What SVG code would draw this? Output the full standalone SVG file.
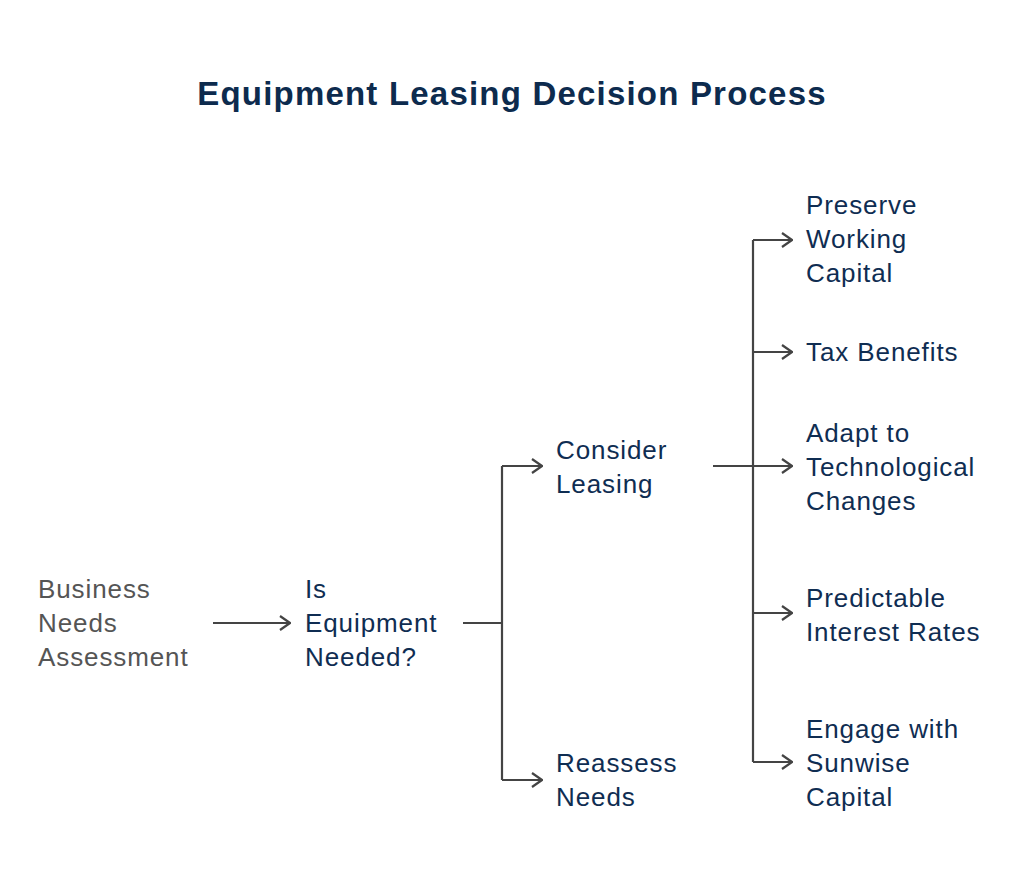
<svg xmlns="http://www.w3.org/2000/svg" width="1024" height="882" viewBox="0 0 1024 882">
<style>
.t{font-family:"Liberation Sans",Arial,sans-serif;font-size:26px;letter-spacing:0.9px;fill:#0f2d52}
.g{fill:#555}
.c{stroke:#444;stroke-width:2.2;fill:none}
</style>
<defs><marker id="a" viewBox="0 0 12 16" refX="11" refY="8" markerWidth="12" markerHeight="16" markerUnits="userSpaceOnUse" orient="auto"><path d="M1 1L11 8L1 15" fill="none" stroke="#444" stroke-width="2.2"/></marker></defs>
<rect width="1024" height="882" fill="#fff"/>
<text x="512" y="105" text-anchor="middle" style="font-family:'Liberation Sans',Arial,sans-serif;font-size:33px;letter-spacing:1.2px;font-weight:bold;fill:#0d2b4e">Equipment Leasing Decision Process</text>
<g id="connectors" class="c">
<path d="M213 623H290" marker-end="url(#a)"/>
<path d="M463 623H502"/>
<path d="M502 466V780"/>
<path d="M502 466H542" marker-end="url(#a)"/>
<path d="M502 780H542" marker-end="url(#a)"/>
<path d="M713 466H753"/>
<path d="M753 240V762"/>
<path d="M753 240H792" marker-end="url(#a)"/>
<path d="M753 352H792" marker-end="url(#a)"/>
<path d="M753 466H792" marker-end="url(#a)"/>
<path d="M753 613H792" marker-end="url(#a)"/>
<path d="M753 762H792" marker-end="url(#a)"/>
</g>
<g id="n1"><text class="t g" x="38" y="598">Business</text><text class="t g" x="38" y="632">Needs</text><text class="t g" x="38" y="666">Assessment</text></g>
<g id="n2"><text class="t" x="305" y="598">Is</text><text class="t" x="305" y="632">Equipment</text><text class="t" x="305" y="666">Needed?</text></g>
<g id="n3"><text class="t" x="556" y="459">Consider</text><text class="t" x="556" y="493">Leasing</text></g>
<g id="n4"><text class="t" x="556" y="772">Reassess</text><text class="t" x="556" y="806">Needs</text></g>
<g id="n5"><text class="t" x="806" y="214">Preserve</text><text class="t" x="806" y="248">Working</text><text class="t" x="806" y="282">Capital</text></g>
<g id="n6"><text class="t" x="806" y="361">Tax Benefits</text></g>
<g id="n7"><text class="t" x="806" y="442">Adapt to</text><text class="t" x="806" y="476">Technological</text><text class="t" x="806" y="510">Changes</text></g>
<g id="n8"><text class="t" x="806" y="607">Predictable</text><text class="t" x="806" y="641">Interest Rates</text></g>
<g id="n9"><text class="t" x="806" y="738">Engage with</text><text class="t" x="806" y="772">Sunwise</text><text class="t" x="806" y="806">Capital</text></g>
</svg>
